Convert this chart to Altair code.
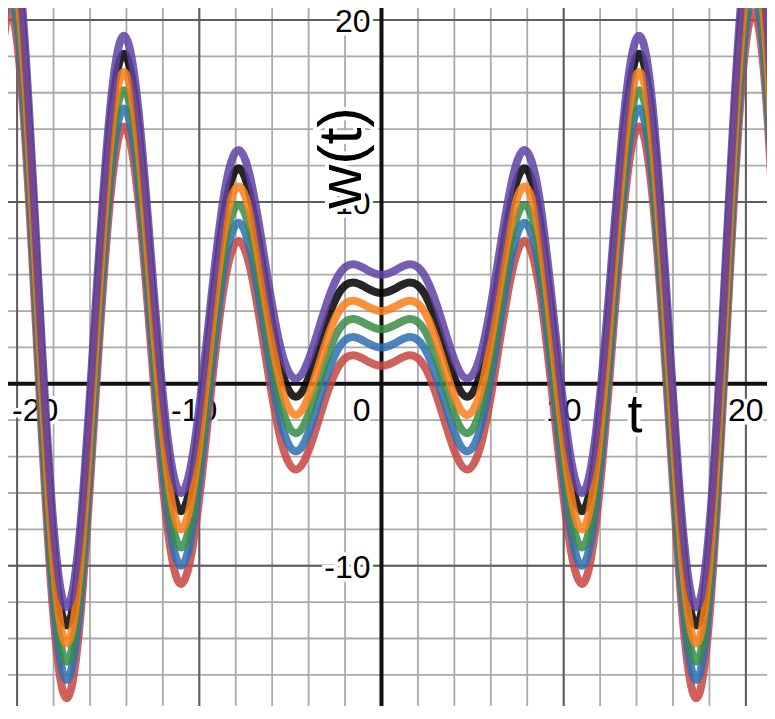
import altair as alt
import pandas as pd

# sample positions along t
t_vals = [-21.21, -20.42, -19.63, -18.85, -18.06, -17.28, -16.49, -15.71,
          -14.92, -14.14, -13.35, -12.57, -11.78, -11.00, -10.21, -9.42,
          -8.64, -7.85, -7.07, -6.28, -5.50, -4.71, -3.93, -3.14,
          -2.36, -1.57, -0.79, 0.00, 0.79, 1.57, 2.36, 3.14,
          3.93, 4.71, 5.50, 6.28, 7.07, 7.85, 8.64, 9.42,
          10.21, 11.00, 11.78, 12.57, 13.35, 14.14, 14.92, 15.71,
          16.49, 17.28, 18.06, 18.85, 19.63, 20.42, 21.21, 21.99]

w_red = [14.29, 20.42, 14.59, 1.00, -12.07, -17.28, -12.37, -1.00,
         9.84, 14.14, 10.15, 1.00, -7.62, -11.00, -7.93, -1.00,
         5.40, 7.85, 5.71, 1.00, -3.18, -4.71, -3.48, -1.00,
         0.96, 1.57, 1.26, 1.00, 1.26, 1.57, 0.96, -1.00,
         -3.48, -4.71, -3.18, 1.00, 5.71, 7.85, 5.40, -1.00,
         -7.93, -11.00, -7.62, 1.00, 10.15, 14.14, 9.84, -1.00,
         -12.37, -17.28, -12.07, 1.00, 14.59, 20.42, 14.29, -1.00]

w_blue = [15.29, 21.42, 15.59, 2.00, -11.07, -16.28, -11.37, 0.00,
          10.84, 15.14, 11.15, 2.00, -6.62, -10.00, -6.93, 0.00,
          6.40, 8.85, 6.71, 2.00, -2.18, -3.71, -2.48, 0.00,
          1.96, 2.57, 2.26, 2.00, 2.26, 2.57, 1.96, 0.00,
          -2.48, -3.71, -2.18, 2.00, 6.71, 8.85, 6.40, 0.00,
          -6.93, -10.00, -6.62, 2.00, 11.15, 15.14, 10.84, 0.00,
          -11.37, -16.28, -11.07, 2.00, 15.59, 21.42, 15.29, 0.00]

w_green = [16.29, 22.42, 16.59, 3.00, -10.07, -15.28, -10.37, 1.00,
           11.84, 16.14, 12.15, 3.00, -5.62, -9.00, -5.93, 1.00,
           7.40, 9.85, 7.71, 3.00, -1.18, -2.71, -1.48, 1.00,
           2.96, 3.57, 3.26, 3.00, 3.26, 3.57, 2.96, 1.00,
           -1.48, -2.71, -1.18, 3.00, 7.71, 9.85, 7.40, 1.00,
           -5.93, -9.00, -5.62, 3.00, 12.15, 16.14, 11.84, 1.00,
           -10.37, -15.28, -10.07, 3.00, 16.59, 22.42, 16.29, 1.00]

w_orange = [17.29, 23.42, 17.59, 4.00, -9.07, -14.28, -9.37, 2.00,
            12.84, 17.14, 13.15, 4.00, -4.62, -8.00, -4.93, 2.00,
            8.40, 10.85, 8.71, 4.00, -0.18, -1.71, -0.48, 2.00,
            3.96, 4.57, 4.26, 4.00, 4.26, 4.57, 3.96, 2.00,
            -0.48, -1.71, -0.18, 4.00, 8.71, 10.85, 8.40, 2.00,
            -4.93, -8.00, -4.62, 4.00, 13.15, 17.14, 12.84, 2.00,
            -9.37, -14.28, -9.07, 4.00, 17.59, 23.42, 17.29, 2.00]

w_black = [18.29, 24.42, 18.59, 5.00, -8.07, -13.28, -8.37, 3.00,
           13.84, 18.14, 14.15, 5.00, -3.62, -7.00, -3.93, 3.00,
           9.40, 11.85, 9.71, 5.00, 0.82, -0.71, 0.52, 3.00,
           4.96, 5.57, 5.26, 5.00, 5.26, 5.57, 4.96, 3.00,
           0.52, -0.71, 0.82, 5.00, 9.71, 11.85, 9.40, 3.00,
           -3.93, -7.00, -3.62, 5.00, 14.15, 18.14, 13.84, 3.00,
           -8.37, -13.28, -8.07, 5.00, 18.59, 24.42, 18.29, 3.00]

w_purple = [19.29, 25.42, 19.59, 6.00, -7.07, -12.28, -7.37, 4.00,
            14.84, 19.14, 15.15, 6.00, -2.62, -6.00, -2.93, 4.00,
            10.40, 12.85, 10.71, 6.00, 1.82, 0.29, 1.52, 4.00,
            5.96, 6.57, 6.26, 6.00, 6.26, 6.57, 5.96, 4.00,
            1.52, 0.29, 1.82, 6.00, 10.71, 12.85, 10.40, 4.00,
            -2.93, -6.00, -2.62, 6.00, 15.15, 19.14, 14.84, 4.00,
            -7.37, -12.28, -7.07, 6.00, 19.59, 25.42, 19.29, 4.00]

series = [
    ("red", w_red, "#c74440"),
    ("blue", w_blue, "#2d70b3"),
    ("green", w_green, "#388c46"),
    ("black", w_black, "#000000"),
    ("orange", w_orange, "#fa7e19"),
    ("purple", w_purple, "#6042a6"),
]

x_minor = [-20, -18, -16, -14, -12, -10, -8, -6, -4, -2, 2, 4, 6, 8, 10,
           12, 14, 16, 18, 20]
y_minor = [-16, -14, -12, -10, -8, -6, -4, -2, 2, 4, 6, 8, 10, 12, 14, 16,
           18, 20]
x_major = [-20, -10, 10, 20]
y_major = [-10, 10, 20]

xtick_pos = [10, 20]
xtick_pos_labels = ["10", "20"]
xtick_neg = [-10]
xtick_neg_labels = ["-10"]
xtick_edge = [-20]
xtick_edge_labels = ["-20"]
ytick_vals = [20, 10, -10]
ytick_labels = ["20", "10", "-10"]

W, H = 759, 698
xs = alt.Scale(domain=[-20.50, 21.16], nice=False, zero=False)
ys = alt.Scale(domain=[-17.71, 20.66], nice=False, zero=False)
FONT = "Liberation Sans"

layers = []

def vrules(vals, color, width):
    return alt.Chart(pd.DataFrame({"v": vals})).mark_rule(
        color=color, strokeWidth=width).encode(
        x=alt.X("v:Q", scale=xs, axis=None))

def hrules(vals, color, width):
    return alt.Chart(pd.DataFrame({"v": vals})).mark_rule(
        color=color, strokeWidth=width).encode(
        y=alt.Y("v:Q", scale=ys, axis=None))

layers.append(vrules(x_minor, "#aaaaaa", 1.8))
layers.append(hrules(y_minor, "#aaaaaa", 1.8))
layers.append(vrules(x_major, "#5e5e5e", 2.0))
layers.append(hrules(y_major, "#5e5e5e", 2.0))
layers.append(vrules([0], "#111111", 4.0))
layers.append(hrules([0], "#111111", 4.0))


def label_layer(vals, labels, axis, align, dx, dy):
    df = pd.DataFrame({"v": vals, "lab": labels, "z": [0] * len(vals)})
    out = []
    for halo in (True, False):
        kw = dict(align=align, baseline="alphabetic", dx=dx, dy=dy,
                  font=FONT, fontSize=32)
        if halo:
            kw.update(fill="white", stroke="white", strokeWidth=7)
        else:
            kw.update(color="black")
        m = alt.Chart(df).mark_text(**kw)
        if axis == "x":
            enc = m.encode(x=alt.X("v:Q", scale=xs, axis=None),
                           y=alt.Y("z:Q", scale=ys, axis=None), text="lab:N")
        else:
            enc = m.encode(y=alt.Y("v:Q", scale=ys, axis=None),
                           x=alt.X("z:Q", scale=xs, axis=None), text="lab:N")
        out.append(enc)
    return out

layers += label_layer(xtick_pos, xtick_pos_labels, "x", "center", 0, 37)
layers += label_layer(xtick_neg, xtick_neg_labels, "x", "right", 18, 37)
layers += label_layer(xtick_edge, xtick_edge_labels, "x", "left", -5, 37)
layers += label_layer([0], ["0"], "x", "right", -11, 37)
layers += label_layer(ytick_vals, ytick_labels, "y", "right", -11, 12)

for name, vals, color in series:
    df = pd.DataFrame({"t": t_vals, "w": vals})
    layers.append(
        alt.Chart(df).mark_line(
            color=color, strokeWidth=8, opacity=0.85, interpolate="natural",
            clip=True, strokeCap="round", strokeJoin="round").encode(
            x=alt.X("t:Q", scale=xs, axis=None),
            y=alt.Y("w:Q", scale=ys, axis=None))
    )

# axis titles
title_df = pd.DataFrame({"lab": ["w(t)"]})
t_df = pd.DataFrame({"lab": ["t"]})
for halo in (True, False):
    kw = dict(font=FONT, fontSize=61, align="center", baseline="middle",
              angle=270)
    kw2 = dict(font=FONT, fontSize=54, align="center", baseline="alphabetic")
    if halo:
        kw.update(fill="white", stroke="white", strokeWidth=8)
        kw2.update(fill="white", stroke="white", strokeWidth=8)
    else:
        kw.update(color="black")
        kw2.update(color="black")
    layers.append(alt.Chart(title_df).mark_text(**kw).encode(
        text="lab:N", x=alt.value(335), y=alt.value(150)))
    layers.append(alt.Chart(t_df).mark_text(**kw2).encode(
        text="lab:N", x=alt.value(627), y=alt.value(424)))

chart = alt.layer(*layers).properties(
    width=W, height=H, padding=0, autosize="none", background="white"
).configure_view(stroke=None)

chart.save("out.html", embed_options={"renderer": "svg", "actions": False})
